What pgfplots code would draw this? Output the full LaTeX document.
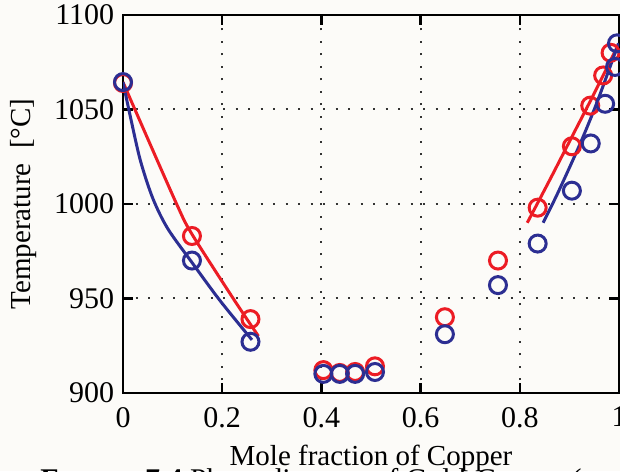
\documentclass[border=0pt]{standalone}
\usepackage{fontspec}
\setmainfont{Liberation Serif}
\usepackage{pgfplots}
\pgfplotsset{compat=1.18}
\definecolor{mred}{RGB}{236,28,36}
\definecolor{mblue}{RGB}{44,46,146}
\definecolor{paper}{RGB}{252,251,248}

\begin{document}
\begin{tikzpicture}
\useasboundingbox (-49.2pt,-31.3pt) rectangle (198.8pt,157.1pt);
\fill[paper] (-49.2pt,-31.3pt) rectangle (198.8pt,157.1pt);
\clip (-49.2pt,-31.3pt) rectangle (198.8pt,157.1pt);
\begin{axis}[
  at={(0pt,0pt)}, anchor=south west,
  scale only axis, width=198.4pt, height=151.1pt,
  xmin=0, xmax=1, ymin=900, ymax=1100,
  xtick={0,0.2,0.4,0.6,0.8,1}, ytick={900,950,1000,1050,1100},
  scaled ticks=false,
  /pgf/number format/assume math mode=true,
  /pgf/number format/1000 sep={},
  tick align=inside, xtick pos=both, ytick pos=both,
  major tick length=4pt,
  axis line style={line width=1pt},
  every tick/.style={black, line width=1pt},
  grid=major,
  major grid style={black!80, line width=0.8pt, dash pattern=on 0.8pt off 4.2pt},
  tick label style={font=\fontsize{12}{14}\selectfont},
  xticklabel style={yshift=-2.2pt},
  label style={font=\fontsize{11.6}{14}\selectfont},
  xlabel={Mole fraction of Copper},
  xlabel style={at={(axis description cs:0.5,0)}, anchor=base, yshift=-28.9pt, inner sep=0pt},
  ylabel={Temperature~~[°C]},
  ylabel style={at={(axis description cs:-0.174,0.5)}, anchor=south, inner sep=0pt},
]
% measured points
\addplot[only marks, mark=o, mark size=3.4pt, mred, line width=1.2pt] coordinates {
  (0,1064) (0.139,983) (0.257,939) (0.404,912) (0.437,910.5) (0.468,911) (0.508,914)
  (0.649,940) (0.756,970) (0.836,998) (0.905,1030.5) (0.942,1052) (0.968,1068) (0.983,1080)};
\addplot[only marks, mark=o, mark size=3.4pt, mblue, line width=1.2pt] coordinates {
  (0,1064.5) (0.139,970) (0.257,927) (0.404,910) (0.437,910) (0.468,910) (0.508,911)
  (0.649,931) (0.756,957) (0.836,979) (0.905,1007) (0.943,1032) (0.972,1053) (0.992,1072.5) (0.996,1085)};
% model curves
\addplot[mred, line width=1.2pt, smooth] coordinates {
  (0,1064.5) (0.024,1050) (0.108,1000) (0.139,984) (0.222,950) (0.273,930)};
\addplot[mblue, line width=1.2pt, smooth] coordinates {
  (0,1064.5) (0.015,1046) (0.035,1023) (0.06,1003) (0.09,987) (0.139,969) (0.195,949) (0.260,928)};
\addplot[mred, line width=1.2pt, smooth] coordinates {
  (0.815,990) (0.86,1012.5) (0.905,1035.5) (0.95,1058.5) (0.999,1084.5)};
\addplot[mblue, line width=1.2pt, smooth] coordinates {
  (0.847,990) (0.877,1006) (0.921,1031.5) (0.956,1054) (0.999,1085)};
\end{axis}
\node[anchor=base west, font=\fontsize{12}{14}\selectfont, inner sep=0pt] at (-33.2pt,-38.5pt)
  {\textbf{F{\fontsize{9.6}{11}\selectfont IGURE} 7.4} Phase diagram of Gold-Copper (};
\end{tikzpicture}
\end{document}
